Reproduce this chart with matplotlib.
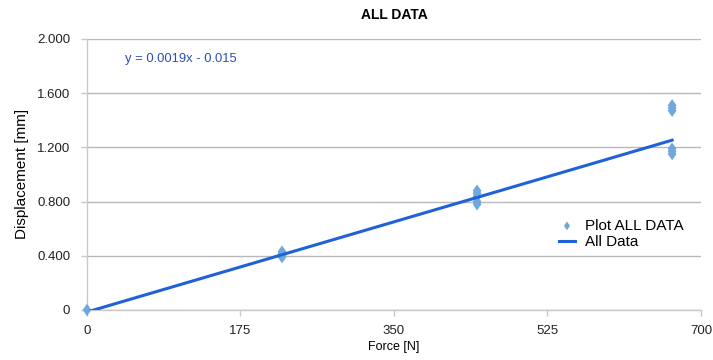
import matplotlib
matplotlib.use("Agg")
import matplotlib.pyplot as plt
import numpy as np

plt.rcParams['font.family'] = ['Liberation Sans', 'DejaVu Sans']

# Measured load / displacement pairs
force_n = [0.0,
           222.4, 222.4, 222.4, 222.4, 222.4,
           444.8, 444.8, 444.8, 444.8, 444.8,
           667.2, 667.2, 667.2, 667.2, 667.2, 667.2]
displacement_mm = [0.0,
                   0.39, 0.40, 0.41, 0.42, 0.43,
                   0.78, 0.80, 0.84, 0.86, 0.88,
                   1.15, 1.17, 1.19, 1.47, 1.49, 1.51]

# Linear fit stated on the chart
slope = 0.0019
intercept = -0.015

x_ticks = [0, 175, 350, 525, 700]
y_ticks = [0, 0.4, 0.8, 1.2, 1.6, 2.0]
y_tick_labels = ['0', '0.400', '0.800', '1.200', '1.600', '2.000']

# Slightly tall diamond marker
diamond = [(-0.7, 0.0), (0.0, 1.0), (0.7, 0.0), (0.0, -1.0), (-0.7, 0.0)]

fig = plt.figure(figsize=(7.13, 3.60), dpi=100)
ax = fig.add_axes([0.122, 0.139, 0.861, 0.753])

ax.scatter(force_n, displacement_mm, marker=diamond, s=80, color='#6fa8dc',
           edgecolors='none', zorder=3, label='Plot ALL DATA', clip_on=False)

fit_x = np.array([0.0, max(force_n)])
fit_y = slope * fit_x + intercept
ax.plot(fit_x, fit_y, color='#1f62d8', lw=2.2, zorder=4, label='All Data')

ax.set_xlim(0, 700)
ax.set_ylim(0, 2.0)
ax.set_xticks(x_ticks)
ax.set_xticklabels([str(t) for t in x_ticks])
ax.set_yticks(y_ticks)
ax.set_yticklabels(y_tick_labels)

ax.grid(axis='y', color='#b8b8b8', lw=1.0)
ax.set_axisbelow(True)
for side in ['top', 'right']:
    ax.spines[side].set_visible(False)
for side in ['left', 'bottom']:
    ax.spines[side].set_color('#c8c8c8')
    ax.spines[side].set_linewidth(1.0)
ax.tick_params(axis='both', colors='#c8c8c8', labelcolor='#222222',
               labelsize=9.5, length=4, width=1)
ax.tick_params(axis='x', pad=7)
ax.tick_params(axis='y', pad=8)

ax.set_title('ALL DATA', fontsize=10, fontweight='bold', pad=14)
ax.set_xlabel('Force [N]', fontsize=9, labelpad=3)
ax.set_ylabel('Displacement [mm]', fontsize=11, labelpad=6)

ax.text(0.062, 0.925, 'y = 0.0019x - 0.015', transform=ax.transAxes,
        fontsize=9.4, color='#2c50b0', va='center', ha='left')

leg = ax.legend(loc='center left', bbox_to_anchor=(0.757, 0.28),
                frameon=False, fontsize=11, handlelength=1.0,
                handletextpad=0.7, labelspacing=0.15, borderpad=0,
                markerscale=0.7)

fig.savefig('out.png', dpi=100)
